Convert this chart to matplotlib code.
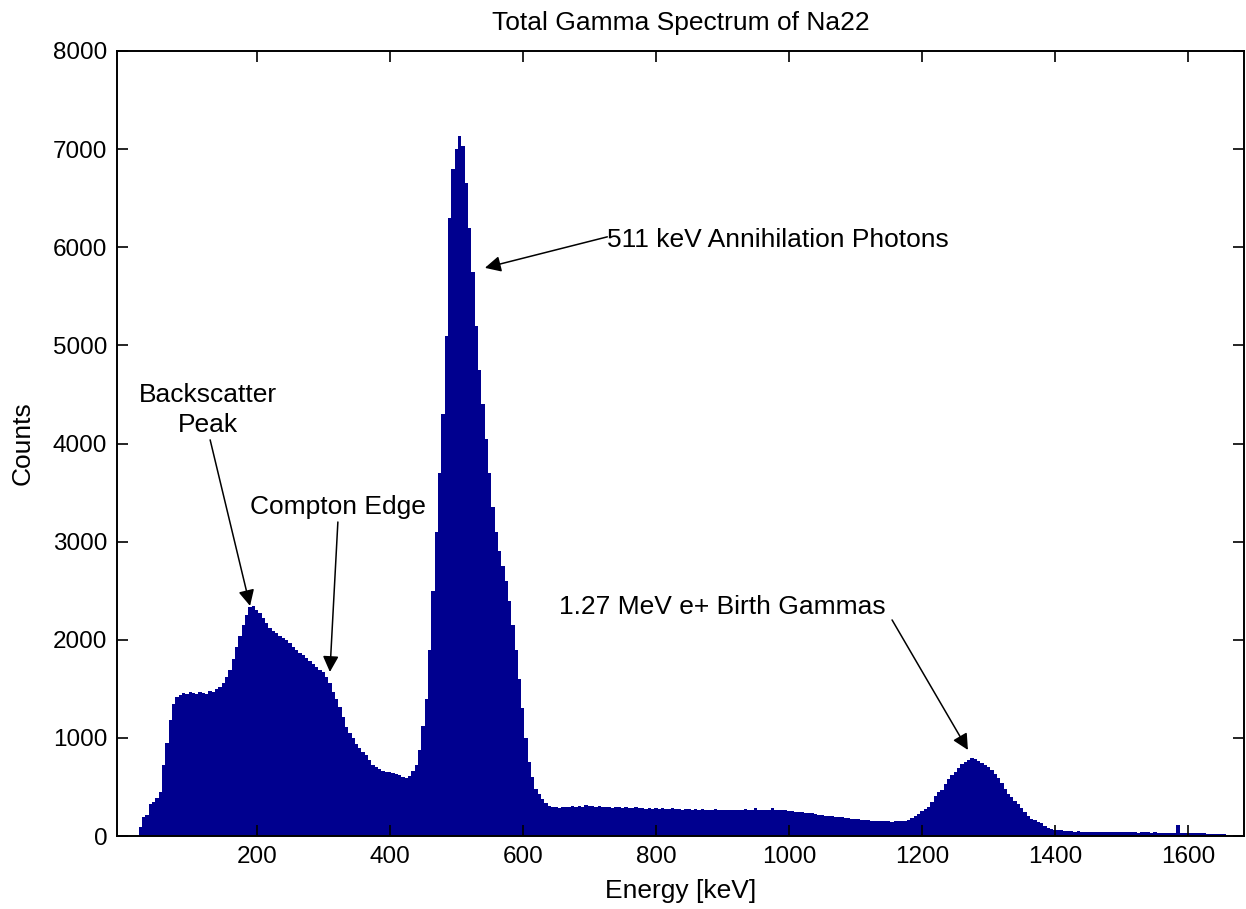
"""Total gamma spectrum of Na22 (MATLAB-style histogram)."""

import matplotlib
matplotlib.use("Agg")
import matplotlib.pyplot as plt
import numpy as np

plt.rcParams["font.family"] = ["Liberation Sans", "DejaVu Sans"]

BIN_START = 25   # keV, centre of first bin
BIN_WIDTH = 5    # keV

# counts per 5 keV bin (each row = 50 keV)
counts = [
    95, 190, 210, 330, 350, 390, 450, 720, 950, 1180,            # 25
    1350, 1420, 1440, 1460, 1450, 1470, 1460, 1450, 1470, 1460,  # 75
    1450, 1480, 1470, 1500, 1520, 1560, 1620, 1690, 1800, 1930,  # 125
    2040, 2150, 2250, 2330, 2340, 2300, 2270, 2220, 2168, 2120,  # 175
    2090, 2066, 2040, 2020, 1998, 1965, 1930, 1896, 1870, 1840,  # 225
    1810, 1780, 1755, 1725, 1695, 1670, 1620, 1560, 1470, 1400,  # 275
    1318, 1210, 1114, 1050, 998, 940, 897, 860, 826, 775,        # 325
    724, 700, 683, 665, 655, 648, 642, 630, 622, 605,            # 375
    591, 615, 660, 720, 880, 1120, 1400, 1900, 2500, 3100,       # 425
    3700, 4300, 5100, 6300, 6800, 7000, 7130, 7030, 6650, 6200,  # 475
    5750, 5200, 4750, 4400, 4050, 3700, 3350, 3100, 2900, 2750,  # 525
    2600, 2400, 2150, 1900, 1600, 1300, 1000, 750, 600, 480,     # 575
    430, 380, 333, 305, 295, 300, 290, 295, 300, 295,            # 625
    305, 300, 310, 300, 315, 310, 305, 300, 310, 300,            # 675
    295, 300, 290, 300, 295, 290, 300, 290, 285, 295,            # 725
    285, 290, 280, 285, 280, 290, 280, 285, 275, 280,            # 775
    285, 275, 280, 270, 280, 275, 270, 280, 270, 275,            # 825
    265, 270, 265, 275, 265, 270, 265, 260, 270, 265,            # 875
    260, 265, 275, 270, 260, 290, 265, 260, 270, 260,            # 925
    285, 265, 260, 265, 260, 255, 250, 245, 240, 245,            # 975
    235, 230, 235, 225, 215, 210, 205, 200, 200, 195,            # 1025
    195, 190, 180, 180, 175, 175, 170, 165, 160, 160,            # 1075
    155, 155, 150, 150, 155, 150, 145, 150, 150, 155,            # 1125
    155, 165, 180, 200, 225, 250, 280, 300, 350, 410,            # 1175
    445, 470, 530, 585, 620, 656, 690, 730, 755, 775,            # 1225
    790, 780, 765, 745, 725, 705, 670, 630, 590, 540,            # 1275
    480, 430, 395, 360, 325, 285, 240, 205, 175, 160,            # 1325
    140, 128, 100, 80, 72, 66, 62, 58, 55, 52,                   # 1375
    50, 45, 48, 42, 45, 40, 44, 40, 42, 38,                      # 1425
    45, 40, 38, 42, 40, 38, 42, 36, 40, 38,                      # 1475
    35, 40, 36, 38, 34, 36, 33, 35, 32, 34,                      # 1525
    35, 34, 110, 32, 30, 32, 30, 28, 30, 26,                     # 1575
    28, 20, 22, 18, 20, 16, 18, 12,                              # 1625
]

x_ticks = [200, 400, 600, 800, 1000, 1200, 1400, 1600]
y_ticks = [0, 1000, 2000, 3000, 4000, 5000, 6000, 7000, 8000]

# (text, text xy, arrow tail, arrow head) in data units
notes = [
    ("Backscatter\nPeak", (127, 4343), (130, 4037), (190, 2345)),
    ("Compton Edge", (322, 3354), (322, 3200), (310, 1672)),
    ("1.27 MeV e+ Birth Gammas", (900, 2334), (1155, 2202), (1269, 877)),
]

FS_TICK = 17.5
FS = 19

edges = BIN_START - BIN_WIDTH / 2 + BIN_WIDTH * np.arange(len(counts) + 1)

fig = plt.figure(figsize=(12.46, 9.09), dpi=100)
ax = fig.add_axes([0.0939, 0.0803, 0.9045, 0.8636])

ax.stairs(counts, edges, fill=True, color="#00008f", linewidth=0)

ax.set_xlim(-10, 1684)
ax.set_ylim(0, 8000)
ax.set_xticks(x_ticks)
ax.set_yticks(y_ticks)
ax.tick_params(direction="in", length=8, width=1.2, top=True, right=True,
               labelsize=FS_TICK, pad=7)
for s in ax.spines.values():
    s.set_linewidth(1.4)

ax.set_title("Total Gamma Spectrum of Na22", fontsize=FS, pad=15)
ax.set_xlabel("Energy [keV]", fontsize=FS, labelpad=8)
ax.set_ylabel("Counts", fontsize=FS, labelpad=13)

arrow = dict(arrowstyle="-|>", color="black", lw=1.1, mutation_scale=24,
             shrinkA=0, shrinkB=0)
for text, txy, tail, head in notes:
    ax.text(txy[0], txy[1], text, ha="center", va="center", fontsize=FS,
            linespacing=1.3)
    ax.annotate("", xy=head, xytext=tail, arrowprops=arrow)

# 511 keV label is left-aligned at the arrow tail
ax.text(727, 6075, "511 keV Annihilation Photons", ha="left", va="center",
        fontsize=FS)
ax.annotate("", xy=(543, 5790), xytext=(727, 6106), arrowprops=arrow)

fig.savefig("out.png", dpi=100)
